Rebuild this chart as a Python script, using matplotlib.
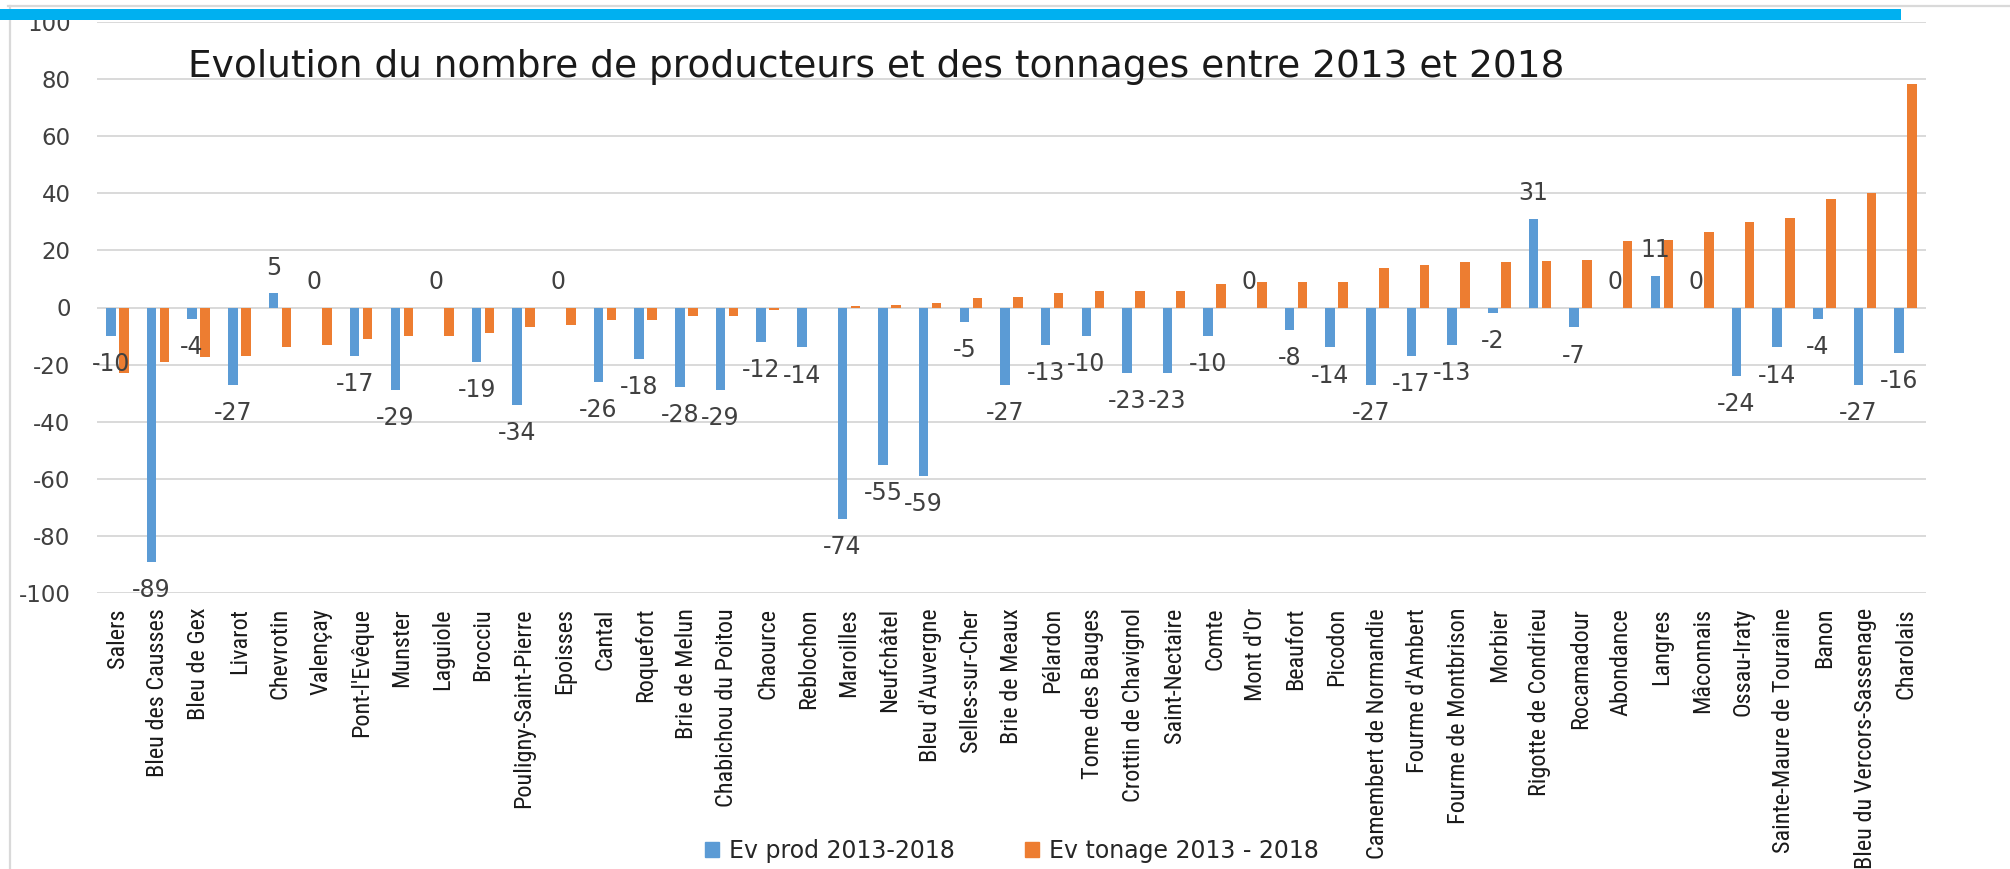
import numpy as np
import matplotlib
matplotlib.use("Agg")
import matplotlib.pyplot as plt
from matplotlib import font_manager as fm
from matplotlib.font_manager import FontProperties
from matplotlib.textpath import TextPath
from matplotlib.patches import Rectangle, Patch
from matplotlib.lines import Line2D

plt.rcParams["axes.unicode_minus"] = False

# ---------------- data ----------------
categories = ["Salers", "Bleu des Causses", "Bleu de Gex", "Livarot", "Chevrotin", "Valençay",
              "Pont-l'Evêque", "Munster", "Laguiole", "Brocciu", "Pouligny-Saint-Pierre", "Epoisses",
              "Cantal", "Roquefort", "Brie de Melun", "Chabichou du Poitou", "Chaource", "Reblochon",
              "Maroilles", "Neufchâtel", "Bleu d'Auvergne", "Selles-sur-Cher", "Brie de Meaux",
              "Pélardon", "Tome des Bauges", "Crottin de Chavignol", "Saint-Nectaire", "Comte",
              "Mont d'Or", "Beaufort", "Picodon", "Camembert de Normandie", "Fourme d'Ambert",
              "Fourme de Montbrison", "Morbier", "Rigotte de Condrieu", "Rocamadour", "Abondance",
              "Langres", "Mâconnais", "Ossau-Iraty", "Sainte-Maure de Touraine", "Banon",
              "Bleu du Vercors-Sassenage", "Charolais"]

ev_prod = [-10, -89, -4, -27, 5, 0, -17, -29, 0, -19, -34, 0, -26, -18, -28, -29, -12, -14,
           -74, -55, -59, -5, -27, -13, -10, -23, -23, -10, 0, -8, -14, -27, -17, -13, -2, 31,
           -7, 0, 11, 0, -24, -14, -4, -27, -16]

ev_tonage = [-23, -19, -17.5, -17, -14, -13, -11, -10, -10, -9, -7, -6, -4.5, -4.5, -3, -3, -1, 0,
             0.7, 1, 1.5, 3.3, 3.7, 5, 5.8, 5.8, 5.8, 8.2, 9, 9, 9, 14, 15, 15.8, 15.8, 16.4,
             16.7, 23.2, 23.6, 26.3, 29.8, 31.2, 38, 40.1, 78.4]

series_names = ["Ev prod 2013-2018", "Ev tonage 2013 - 2018"]
title = "Evolution du nombre de producteurs et des tonnages entre 2013 et 2018"
yticks = list(range(-100, 101, 20))

# ---------------- fonts ----------------
all_fonts = fm.fontManager.ttflist
names = {f.name for f in all_fonts}
cond_family, cond_stretch = "DejaVu Sans", "normal"
found = False
for cand in ["Liberation Sans Narrow", "Roboto Condensed", "Open Sans Condensed",
             "Noto Sans Condensed", "DejaVu Sans Condensed"]:
    if cand in names:
        cond_family = cand
        found = True
        break
if not found:
    for fam in ["DejaVu Sans", "Noto Sans", "Open Sans", "Roboto"]:
        ok = False
        for f in all_fonts:
            st = f.stretch
            if f.name == fam and (st in ("condensed", "semi-condensed") or (isinstance(st, int) and st < 500)):
                ok = True
                break
        if ok:
            cond_family, cond_stretch = fam, "condensed"
            break

def fit_size(text, target_px, family, stretch="normal"):
    fp = FontProperties(family=family, stretch=stretch, size=10)
    w = TextPath((0, 0), text, prop=fp).get_extents().width * 100 / 72
    return 10 * target_px / w

tick_size = fit_size("Bleu des Causses", 166, cond_family, cond_stretch)
title_size = fit_size(title, 1372, "DejaVu Sans")

# ---------------- figure ----------------
W, H = 2010, 869
fig = plt.figure(figsize=(W / 100, H / 100), dpi=100)
fig.patch.set_facecolor("white")

ax = fig.add_axes([97 / W, 1 - 593 / H, (1926 - 97) / W, (593 - 22) / H])
x = np.arange(len(categories))
off, bw = 0.16, 0.235
blue, orange = "#5b9bd5", "#ed7d31"
ax.bar(x - off, ev_prod, bw, color=blue, zorder=3, label=series_names[0])
ax.bar(x + off, ev_tonage, bw, color=orange, zorder=3, label=series_names[1])

ax.set_xlim(-0.5, len(categories) - 0.5)
ax.set_ylim(-100, 100)
ax.set_yticks(yticks)
ax.yaxis.grid(True, color="#d9d9d9", linewidth=1.4)
ax.set_axisbelow(True)
for s in ax.spines.values():
    s.set_visible(False)
ax.tick_params(axis="both", length=0)
ax.tick_params(axis="y", pad=19, labelsize=16.5, labelcolor="#404040")
ax.set_xticks(x)
ax.set_xticklabels(categories, rotation=90, ha="center", va="top",
                   fontsize=tick_size, family=cond_family, fontstretch=cond_stretch,
                   color="#1a1a1a")
ax.tick_params(axis="x", pad=10.8)

for xi, v in zip(x, ev_prod):
    dy = -20.2 if v < 0 else 18.5
    ax.annotate(f"{v}", (xi - off, v), xytext=(0, dy), textcoords="offset points",
                ha="center", va="center", fontsize=17, color="#404040", zorder=6)

fig.text(876 / W, 1 - 77 / H, title, ha="center", va="baseline",
         fontsize=title_size, color="#1a1a1a")

# frame decorations
fig.add_artist(Line2D([8 / W, 1], [1 - 6 / H, 1 - 6 / H], color="#d9d9d9", lw=1.6))
fig.add_artist(Line2D([10 / W, 10 / W], [0, 1 - 6 / H], color="#d9d9d9", lw=1.6))
fig.add_artist(Rectangle((0, 1 - 20 / H), 1901 / W, 11 / H, transform=fig.transFigure,
                         facecolor="#00b0f0", edgecolor="none", zorder=10))

# legend
leg_kw = dict(loc="center left", frameon=False, borderpad=0, borderaxespad=0,
              handlelength=0.6, handleheight=0.6, handletextpad=0.4, fontsize=17,
              labelcolor="#262626")
fig.legend(handles=[Patch(color=blue)], labels=[series_names[0]],
           bbox_to_anchor=(705 / W, 1 - 851 / H), **leg_kw)
fig.legend(handles=[Patch(color=orange)], labels=[series_names[1]],
           bbox_to_anchor=(1025 / W, 1 - 851 / H), **leg_kw)

fig.savefig("out.png", dpi=100, facecolor="white")
